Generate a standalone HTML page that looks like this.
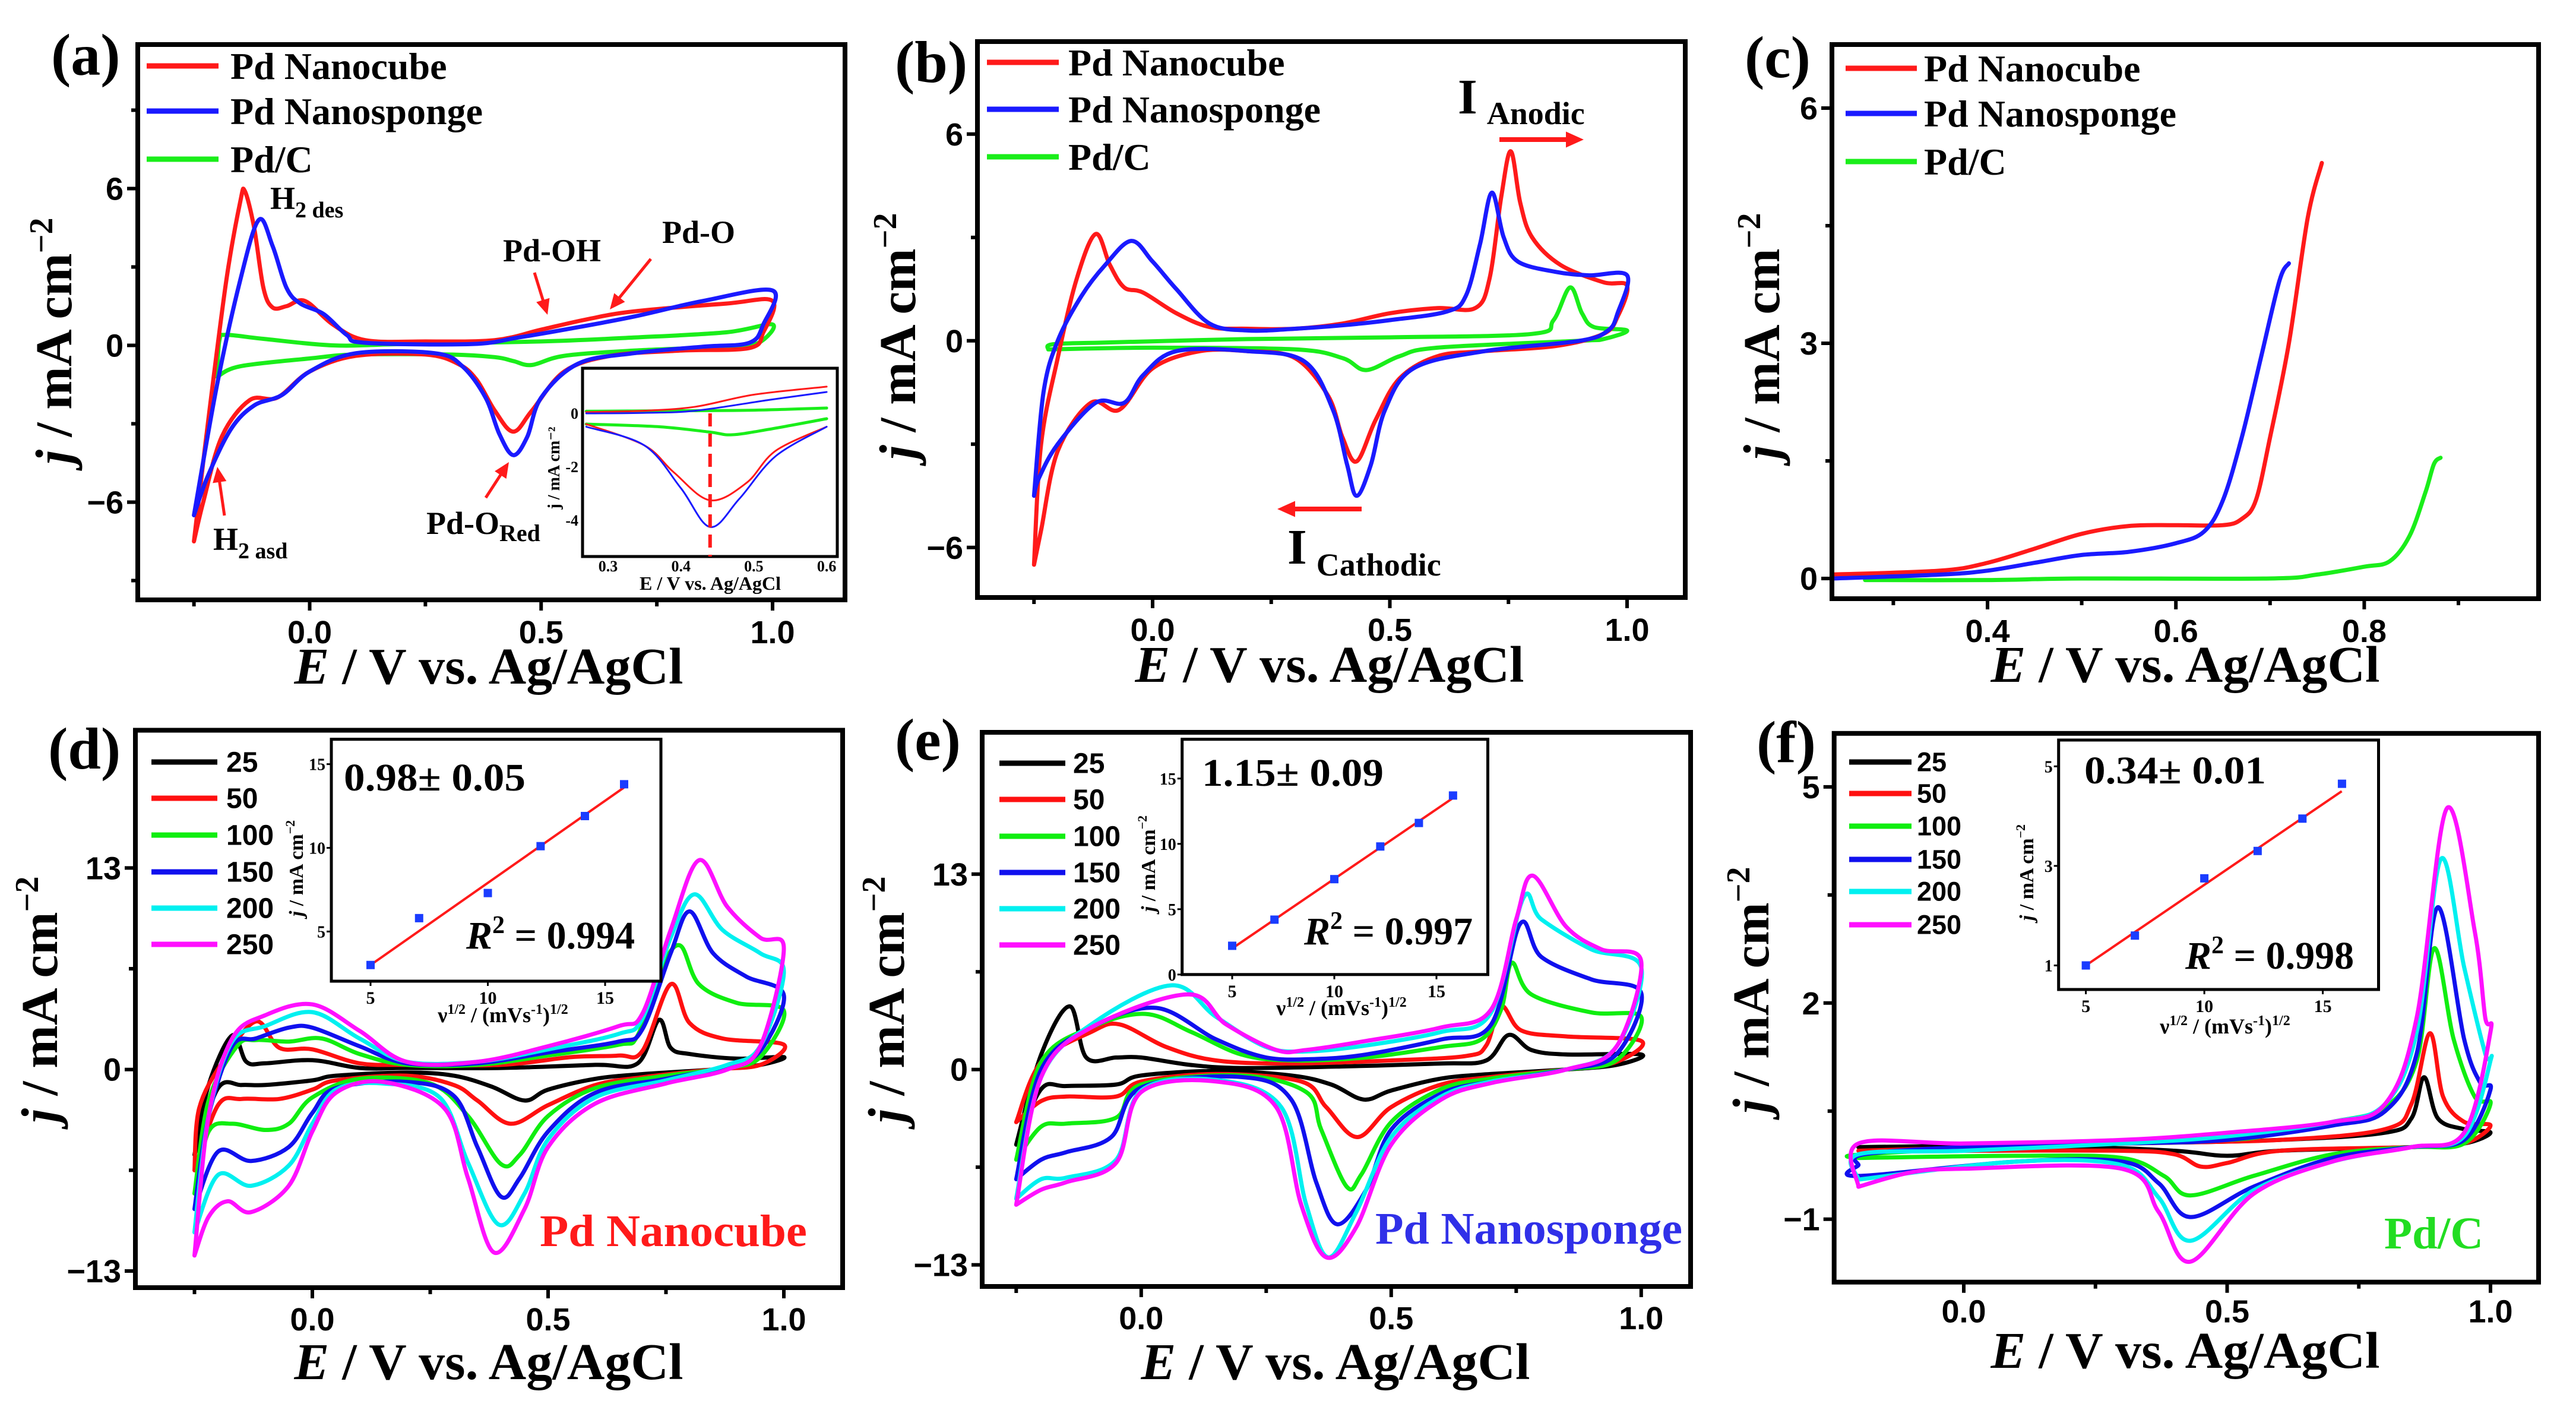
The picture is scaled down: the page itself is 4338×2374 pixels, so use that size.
<!DOCTYPE html>
<html>
<head>
<meta charset="utf-8">
<style>
html,body{margin:0;padding:0;background:#fff;}
svg{display:block;}
</style>
</head>
<body>
<svg id="fig" width="4338" height="2374" viewBox="0 0 4338 2374" xmlns="http://www.w3.org/2000/svg"></svg>
<script>
// ================= DATA =================
// Panel (a) CV: [E (V), j (mA cm-2)] forward then reverse sweep
const aCube = [[-0.25,-7.5],[-0.22,-3],[-0.18,2.5],[-0.15,5.5],[-0.14,5.9],[-0.12,4.5],[-0.1,2.2],[-0.08,1.45],[-0.05,1.5],[-0.01,1.7],[0.05,0.8],[0.12,0.2],[0.25,0.15],[0.4,0.2],[0.5,0.6],[0.6,1.0],[0.7,1.3],[0.9,1.6],[1.0,1.7],[0.98,0.5],[0.95,-0.1],[0.8,-0.2],[0.65,-0.4],[0.55,-1.0],[0.48,-2.5],[0.44,-3.3],[0.4,-2.5],[0.36,-1.3],[0.32,-0.7],[0.25,-0.35],[0.1,-0.4],[0.0,-1.0],[-0.07,-2.0],[-0.13,-2.1],[-0.19,-3.5],[-0.23,-6],[-0.25,-7.5]];
const aSponge = [[-0.25,-6.5],[-0.2,-1.5],[-0.15,2.5],[-0.11,4.8],[-0.08,3.8],[-0.05,2.2],[-0.02,1.6],[0.03,1.2],[0.08,0.4],[0.12,0.1],[0.35,0.05],[0.45,0.3],[0.55,0.6],[0.7,1.1],[0.85,1.7],[1.0,2.1],[0.98,0.8],[0.95,0.1],[0.85,-0.05],[0.7,-0.3],[0.58,-0.7],[0.5,-2],[0.47,-3.5],[0.44,-4.2],[0.41,-3.4],[0.38,-2.0],[0.33,-0.8],[0.27,-0.3],[0.1,-0.3],[0.0,-1.0],[-0.06,-1.9],[-0.12,-2.3],[-0.17,-3.2],[-0.22,-5],[-0.25,-6.5]];
const aPdc = [[-0.2,-1.2],[-0.195,0.2],[-0.18,0.4],[-0.1,0.25],[0.05,0.0],[0.2,0.05],[0.5,0.15],[0.7,0.3],[0.9,0.5],[1.0,0.8],[0.97,0.1],[0.9,-0.05],[0.7,-0.2],[0.55,-0.4],[0.48,-0.75],[0.44,-0.6],[0.4,-0.45],[0.3,-0.35],[0.1,-0.35],[0.0,-0.5],[-0.15,-0.8],[-0.2,-1.2]];
// inset (a)
const aiCubeFwd = [[0.27,0.05],[0.35,0.1],[0.42,0.25],[0.5,0.7],[0.6,1.0]];
const aiCubeRev = [[0.27,-0.4],[0.35,-1.2],[0.39,-2.2],[0.44,-3.25],[0.49,-2.6],[0.53,-1.4],[0.6,-0.5]];
const aiSpongeFwd = [[0.27,0.0],[0.35,0.02],[0.42,0.1],[0.52,0.5],[0.6,0.8]];
const aiSpongeRev = [[0.27,-0.5],[0.35,-1.2],[0.4,-2.8],[0.44,-4.25],[0.48,-3.2],[0.53,-1.6],[0.6,-0.5]];
const aiPdcFwd = [[0.27,0.08],[0.4,0.1],[0.5,0.12],[0.6,0.2]];
const aiPdcRev = [[0.27,-0.4],[0.37,-0.5],[0.44,-0.7],[0.47,-0.8],[0.52,-0.6],[0.6,-0.2]];
const aiMarkE = [0.44];

// Panel (b)
const bCube = [[-0.25,-6.5],[-0.235,-3],[-0.2,-0.5],[-0.16,1.8],[-0.12,3.1],[-0.09,2.2],[-0.06,1.55],[-0.02,1.4],[0.05,0.8],[0.12,0.4],[0.2,0.35],[0.3,0.35],[0.4,0.5],[0.5,0.8],[0.6,0.95],[0.68,0.95],[0.71,1.8],[0.735,4.2],[0.755,5.5],[0.775,4.0],[0.8,3.0],[0.86,2.2],[0.95,1.7],[1.0,1.6],[0.98,0.7],[0.95,0.2],[0.85,-0.15],[0.7,-0.3],[0.6,-0.45],[0.52,-1.1],[0.47,-2.3],[0.43,-3.5],[0.4,-2.8],[0.37,-1.6],[0.3,-0.5],[0.2,-0.3],[0.1,-0.3],[0.0,-0.8],[-0.07,-2.0],[-0.13,-1.8],[-0.2,-3.2],[-0.235,-5.5],[-0.25,-6.5]];
const bSponge = [[-0.25,-4.5],[-0.23,-1.5],[-0.2,0.0],[-0.15,1.3],[-0.1,2.2],[-0.045,2.9],[0.0,2.3],[0.05,1.5],[0.12,0.5],[0.2,0.3],[0.3,0.35],[0.4,0.45],[0.5,0.6],[0.62,0.85],[0.66,1.3],[0.69,2.8],[0.715,4.3],[0.74,3.0],[0.77,2.3],[0.85,2.0],[0.92,1.9],[1.0,1.9],[0.98,0.8],[0.96,0.3],[0.9,0.0],[0.7,-0.3],[0.55,-0.8],[0.49,-2],[0.46,-3.6],[0.43,-4.5],[0.41,-3.6],[0.38,-2.0],[0.32,-0.6],[0.2,-0.3],[0.05,-0.3],[-0.02,-1.0],[-0.06,-1.8],[-0.12,-1.8],[-0.2,-3.0],[-0.24,-4.0],[-0.25,-4.5]];
const bPdc = [[-0.22,-0.25],[-0.21,-0.1],[-0.1,-0.05],[0.2,0.05],[0.5,0.1],[0.8,0.2],[0.845,0.6],[0.88,1.55],[0.905,0.8],[0.93,0.4],[1.0,0.3],[0.95,0.05],[0.9,0.0],[0.6,-0.2],[0.52,-0.45],[0.45,-0.85],[0.4,-0.5],[0.3,-0.25],[0.0,-0.2],[-0.22,-0.25]];

// Panel (c) LSV
const cCube = [[0.235,0.05],[0.35,0.1],[0.4,0.2],[0.45,0.38],[0.5,0.57],[0.55,0.67],[0.6,0.68],[0.65,0.68],[0.67,0.76],[0.685,1.0],[0.7,1.8],[0.72,3.0],[0.74,4.6],[0.755,5.3]];
const cSponge = [[0.235,0.0],[0.35,0.05],[0.4,0.1],[0.45,0.2],[0.5,0.3],[0.55,0.34],[0.6,0.45],[0.63,0.6],[0.65,1.0],[0.67,1.8],[0.69,2.8],[0.71,3.8],[0.72,4.02]];
const cPdc = [[0.27,-0.02],[0.4,-0.02],[0.5,0.0],[0.7,0.0],[0.75,0.05],[0.8,0.15],[0.827,0.22],[0.848,0.54],[0.865,1.1],[0.874,1.46],[0.881,1.54]];

// Panel (d) Pd nanocube, scan rates
const d25 = [[-0.25,-5.5],[-0.22,-1],[-0.17,2.2],[-0.14,0.5],[-0.1,0.4],[0.0,0.6],[0.1,0.1],[0.2,0.1],[0.4,0.1],[0.6,0.3],[0.69,0.4],[0.735,3.2],[0.76,1.4],[0.8,1.0],[0.9,0.7],[1.0,0.8],[0.95,0.3],[0.85,0.0],[0.7,-0.3],[0.6,-0.6],[0.5,-1.3],[0.45,-2.0],[0.38,-1.1],[0.3,-0.4],[0.2,-0.2],[0.05,-0.4],[0.0,-0.7],[-0.1,-1.0],[-0.15,-1.0],[-0.2,-1.2],[-0.25,-5.5]];
const d50 = [[-0.25,-6.5],[-0.24,-2.5],[-0.19,0.5],[-0.12,3.1],[-0.07,1.4],[0.0,1.3],[0.1,0.4],[0.2,0.3],[0.4,0.3],[0.55,0.8],[0.65,0.9],[0.7,1.2],[0.76,5.5],[0.8,3.0],[0.87,2.0],[1.0,1.6],[0.95,0.3],[0.85,0.0],[0.7,-0.5],[0.6,-1.0],[0.5,-2.3],[0.42,-3.5],[0.35,-2.0],[0.3,-1.0],[0.2,-0.4],[0.05,-0.7],[0.0,-1.3],[-0.07,-1.9],[-0.15,-1.9],[-0.2,-2.3],[-0.25,-6.5]];
const d100 = [[-0.25,-8],[-0.22,-2],[-0.16,1.5],[-0.12,1.9],[-0.05,1.8],[0.02,2.0],[0.1,1.0],[0.2,0.3],[0.35,0.3],[0.5,0.9],[0.65,1.6],[0.69,2.2],[0.74,6.5],[0.78,8.0],[0.82,5.5],[0.9,4.3],[1.0,3.8],[0.95,0.8],[0.88,0.1],[0.75,-0.4],[0.6,-1.2],[0.5,-3.0],[0.44,-5.5],[0.4,-6.1],[0.33,-3.0],[0.25,-0.9],[0.1,-0.6],[0.0,-1.8],[-0.05,-3.5],[-0.1,-3.9],[-0.17,-3.5],[-0.22,-4],[-0.25,-8]];
const d150 = [[-0.25,-9],[-0.22,-3],[-0.17,1.5],[-0.12,2.0],[-0.05,2.7],[0.0,2.7],[0.1,1.5],[0.2,0.4],[0.35,0.4],[0.5,1.1],[0.65,1.8],[0.7,2.6],[0.76,7.5],[0.8,10.2],[0.85,7.5],[0.92,6.0],[1.0,4.8],[0.95,1.2],[0.88,0.2],[0.75,-0.6],[0.6,-1.5],[0.5,-4],[0.44,-7],[0.4,-8.2],[0.35,-5],[0.3,-1.7],[0.2,-0.8],[0.05,-1.2],[0.0,-2.8],[-0.05,-5.0],[-0.13,-5.9],[-0.2,-5.3],[-0.25,-9]];
const d200 = [[-0.25,-10.5],[-0.22,-3],[-0.17,1.8],[-0.1,2.8],[0.0,3.7],[0.1,2.0],[0.2,0.5],[0.35,0.5],[0.5,1.3],[0.65,2.3],[0.7,3.3],[0.76,8.5],[0.81,11.3],[0.87,9.0],[0.95,7.5],[1.0,6.3],[0.95,1.5],[0.88,0.3],[0.75,-0.7],[0.6,-1.8],[0.5,-4.5],[0.45,-8],[0.395,-10],[0.33,-6],[0.27,-1.8],[0.15,-0.9],[0.05,-1.3],[0.0,-3.5],[-0.05,-6.2],[-0.13,-7.5],[-0.2,-6.8],[-0.25,-10.5]];
const d250 = [[-0.25,-12],[-0.22,-3],[-0.17,2.0],[-0.1,3.5],[0.0,4.2],[0.1,2.5],[0.2,0.5],[0.35,0.5],[0.5,1.5],[0.65,2.8],[0.7,3.6],[0.76,9.0],[0.82,13.5],[0.88,10.5],[0.95,8.5],[1.0,7.8],[0.95,1.5],[0.88,0.0],[0.75,-0.9],[0.6,-2.2],[0.5,-5],[0.45,-9],[0.385,-11.8],[0.33,-7],[0.28,-2.5],[0.15,-0.8],[0.05,-1.5],[0.0,-4],[-0.05,-7.5],[-0.13,-9.2],[-0.18,-8.5],[-0.22,-9.5],[-0.25,-12]];

// Panel (e) Pd nanosponge
const e25 = [[-0.25,-5],[-0.2,1.0],[-0.143,4.2],[-0.11,0.8],[-0.05,0.8],[0.0,0.8],[0.1,0.3],[0.2,0.1],[0.4,0.2],[0.6,0.4],[0.69,0.6],[0.735,2.3],[0.78,1.3],[0.85,1.0],[1.0,1.0],[0.95,0.3],[0.85,0.0],[0.7,-0.3],[0.6,-0.6],[0.5,-1.4],[0.445,-2.0],[0.38,-1.0],[0.3,-0.4],[0.15,-0.1],[0.0,-0.4],[-0.05,-1.0],[-0.15,-1.1],[-0.2,-1.3],[-0.25,-5]];
const e50 = [[-0.25,-3.5],[-0.2,0.5],[-0.1,2.5],[-0.043,3.0],[0.05,1.5],[0.15,0.6],[0.3,0.4],[0.5,0.6],[0.65,0.9],[0.69,1.6],[0.72,4.2],[0.76,2.6],[0.85,2.2],[1.0,1.9],[0.95,0.5],[0.85,0.0],[0.7,-0.5],[0.6,-1.0],[0.5,-2.5],[0.432,-4.5],[0.37,-2.5],[0.32,-0.8],[0.15,-0.3],[0.0,-0.8],[-0.05,-1.8],[-0.15,-1.8],[-0.2,-2.1],[-0.25,-3.5]];
const e100 = [[-0.25,-6],[-0.2,0.5],[-0.1,2.8],[0.008,3.7],[0.1,2.5],[0.2,1.0],[0.3,0.6],[0.45,0.8],[0.6,1.5],[0.68,2.0],[0.72,4.0],[0.741,7.1],[0.78,5.0],[0.9,3.8],[1.0,3.5],[0.95,0.6],[0.85,0.0],[0.7,-0.6],[0.6,-1.3],[0.5,-3.5],[0.44,-7],[0.411,-7.8],[0.36,-4],[0.33,-1.5],[0.2,-0.4],[0.0,-1.0],[-0.05,-3.2],[-0.15,-3.6],[-0.2,-3.8],[-0.25,-6]];
const e150 = [[-0.25,-7.3],[-0.2,0.0],[-0.1,2.8],[0.03,4.1],[0.15,2.0],[0.25,0.8],[0.35,0.7],[0.45,1.0],[0.6,2.0],[0.7,3.0],[0.758,9.7],[0.8,7.5],[0.9,6.0],[1.0,5.1],[0.95,1.0],[0.85,0.0],[0.7,-0.8],[0.6,-1.6],[0.5,-4.0],[0.45,-8.0],[0.392,-10.3],[0.35,-7.5],[0.3,-2],[0.2,-0.5],[0.0,-1.2],[-0.06,-4.5],[-0.15,-5.5],[-0.2,-6.0],[-0.25,-7.3]];
const e200 = [[-0.25,-8.6],[-0.2,-0.5],[-0.1,3],[0.06,5.6],[0.15,3.5],[0.25,1.5],[0.33,1.2],[0.45,1.6],[0.6,2.5],[0.7,3.8],[0.764,11.4],[0.8,10],[0.9,8.0],[1.0,6.8],[0.95,1.5],[0.85,0.0],[0.7,-0.8],[0.6,-1.8],[0.5,-4.5],[0.43,-9.5],[0.374,-12.5],[0.33,-9],[0.28,-2.5],[0.15,-0.7],[0.0,-1.4],[-0.05,-6],[-0.15,-7.2],[-0.2,-7.3],[-0.25,-8.6]];
const e250 = [[-0.25,-9.0],[-0.2,-0.5],[-0.1,2.8],[0.093,5.0],[0.17,3.0],[0.27,1.3],[0.33,1.3],[0.45,1.9],[0.6,2.8],[0.7,4.0],[0.75,10],[0.783,12.9],[0.85,9.5],[0.92,8.0],[1.0,7.2],[0.95,1.5],[0.85,0.0],[0.7,-0.9],[0.6,-2.0],[0.5,-5],[0.43,-10.5],[0.37,-12.5],[0.32,-9],[0.27,-2.5],[0.15,-0.8],[0.0,-1.5],[-0.05,-6.2],[-0.15,-7.5],[-0.2,-8.0],[-0.25,-9.0]];

// Panel (f) Pd/C
const f25 = [[-0.2,0.0],[0.3,0.05],[0.6,0.1],[0.8,0.2],[0.85,0.4],[0.874,0.97],[0.9,0.4],[0.95,0.25],[1.0,0.2],[0.95,0.05],[0.85,0.0],[0.6,-0.05],[0.5,-0.12],[0.4,-0.05],[0.2,0.0],[-0.2,0.0]];
const f50 = [[-0.2,-0.05],[0.3,0.05],[0.6,0.1],[0.8,0.25],[0.85,0.6],[0.885,1.58],[0.91,0.7],[0.95,0.35],[1.0,0.3],[0.95,0.05],[0.85,0.0],[0.6,-0.05],[0.5,-0.22],[0.45,-0.27],[0.4,-0.1],[0.3,-0.05],[0.0,-0.05],[-0.2,-0.05]];
const f100 = [[-0.2,-0.15],[-0.19,-0.1],[0.2,0.05],[0.5,0.1],[0.6,0.2],[0.7,0.35],[0.8,0.55],[0.86,1.2],[0.893,2.76],[0.93,1.5],[0.97,0.7],[1.0,0.6],[0.95,0.05],[0.85,0.0],[0.7,-0.1],[0.55,-0.4],[0.43,-0.67],[0.38,-0.4],[0.3,-0.15],[0.1,-0.12],[-0.2,-0.15]];
const f150 = [[-0.2,-0.25],[-0.19,-0.1],[0.0,0.0],[0.3,0.05],[0.5,0.1],[0.7,0.3],[0.8,0.5],[0.86,1.3],[0.9,3.33],[0.95,1.5],[0.98,0.9],[1.0,0.8],[0.95,0.1],[0.85,0.0],[0.7,-0.15],[0.55,-0.55],[0.43,-0.97],[0.37,-0.5],[0.3,-0.2],[0.1,-0.2],[-0.2,-0.4],[-0.2,-0.25]];
const f200 = [[-0.2,-0.45],[-0.2,-0.1],[0.0,-0.05],[0.3,0.05],[0.5,0.15],[0.7,0.35],[0.8,0.6],[0.86,1.6],[0.906,4.0],[0.95,2.5],[0.99,1.3],[1.0,1.2],[0.95,0.15],[0.85,0.0],[0.7,-0.2],[0.55,-0.6],[0.43,-1.3],[0.37,-0.7],[0.3,-0.25],[0.1,-0.2],[-0.2,-0.45]];
const f250 = [[-0.2,-0.55],[-0.2,0.05],[0.0,0.05],[0.3,0.1],[0.5,0.2],[0.7,0.35],[0.8,0.6],[0.86,1.8],[0.917,4.7],[0.97,3.0],[0.99,1.8],[1.0,1.6],[0.95,0.2],[0.85,0.0],[0.7,-0.2],[0.55,-0.65],[0.43,-1.59],[0.37,-0.9],[0.3,-0.3],[0.0,-0.3],[-0.1,-0.35],[-0.2,-0.55]];

// Insets: peak current vs sqrt(scan rate)
const sqrtRate = [5,7.07,10,12.25,14.14,15.81];
const dPeak = [3.0,5.8,7.3,10.1,11.9,13.8];
const dFit = [[5,3.0],[15.8,13.6]];
const ePeak = [2.2,4.2,7.3,9.8,11.6,13.7];
const eFit = [[5,2.0],[15.8,13.5]];
const fPeak = [1.0,1.6,2.75,3.3,3.95,4.65];
const fFit = [[5,1.0],[15.8,4.5]];

// Tick labels
const cvXTicks = [0,0.5,1.0];
const cvXTickLabels = ['0.0','0.5','1.0'];
const aYTicks = [6,0,-6];
const aYTickLabels = ['6','0','\u22126'];
const cXTicks = [0.4,0.6,0.8];
const cXTickLabels = ['0.4','0.6','0.8'];
const cYTicks = [0,3,6];
const dYTicks = [13,0,-13];
const dYTickLabels = ['13','0','\u221213'];
const fYTicks = [5,2,-1];
const fYTickLabels = ['5','2','\u22121'];
const rateLabels = ['25','50','100','150','200','250'];
const rateColors = ['#000000','#ff1010','#10ee10','#1010ee','#00f0f0','#ff10ff'];

// ================= DRAWING =================
const NS = 'http://www.w3.org/2000/svg';
const svg = document.getElementById('fig');
function mk(tag, parent){ const el = document.createElementNS(NS, tag); parent.appendChild(el); return el; }
function set(el, o){ for (const k in o) el.setAttribute(k, o[k]); return el; }
const SERIF = '"Liberation Serif", "DejaVu Serif", serif';
const SANS = '"Liberation Sans", "DejaVu Sans", sans-serif';

function smooth(pts){
  let d = 'M' + pts[0][0].toFixed(1) + ',' + pts[0][1].toFixed(1);
  for (let i = 0; i < pts.length - 1; i++){
    const p0 = pts[Math.max(0,i-1)], p1 = pts[i], p2 = pts[i+1], p3 = pts[Math.min(pts.length-1,i+2)];
    const c1x = p1[0] + (p2[0]-p0[0])/6, c1y = p1[1] + (p2[1]-p0[1])/6;
    const c2x = p2[0] - (p3[0]-p1[0])/6, c2y = p2[1] - (p3[1]-p1[1])/6;
    d += 'C' + c1x.toFixed(1)+','+c1y.toFixed(1)+' '+c2x.toFixed(1)+','+c2y.toFixed(1)+' '+p2[0].toFixed(1)+','+p2[1].toFixed(1);
  }
  return d;
}
function makeAxes(cfg){
  return {
    x: v => cfg.ex[1] + (v - cfg.ex[0]) * cfg.ex[2],
    y: v => cfg.jy[1] - (v - cfg.jy[0]) * cfg.jy[2]
  };
}
function txt(parent, x, y, str, size, font, anchor, fill){
  const el = mk('text', parent);
  set(el, {x:x, y:y, 'font-size':size, 'font-family':font, 'font-weight':'bold', 'text-anchor':anchor||'start', fill:fill||'#000'});
  el.textContent = str;
  return el;
}
function curve(g, ax, pts, color, w, name){
  const p = mk('path', g);
  set(p, {d: smooth(pts.map(q => [ax.x(q[0]), ax.y(q[1])])), fill:'none', stroke:color, 'stroke-width':w, 'stroke-linejoin':'round', 'stroke-linecap':'round'});
  
  
  return p;
}

function panel(id, cfg){
  const g = mk('g', svg);
  
  
  const ax = makeAxes(cfg);
  const [x0,y0,x1,y1] = cfg.box;
  // ticks x
  const xt = mk('g', g);
  
  
  cfg.xt.forEach((v,i) => {
    const t = mk('line', xt);
    set(t, {x1:ax.x(v), x2:ax.x(v), y1:y1, y2:y1+18, stroke:'#000', 'stroke-width':6});
    
    
    const l = txt(xt, ax.x(v), y1 + cfg.xlOff, cfg.xtl[i], 54, SANS, 'middle');
    
    
  });
  cfg.xm.forEach(v => {
    const t = mk('line', xt);
    set(t, {x1:ax.x(v), x2:ax.x(v), y1:y1, y2:y1+11, stroke:'#000', 'stroke-width':6});
    
    
  });
  // ticks y
  const yt = mk('g', g);
  
  
  cfg.yt.forEach((v,i) => {
    const t = mk('line', yt);
    set(t, {x1:x0-18, x2:x0, y1:ax.y(v), y2:ax.y(v), stroke:'#000', 'stroke-width':6});
    
    
    const l = txt(yt, x0 - 24, ax.y(v) + 19, cfg.ytl[i], 54, SANS, 'end');
    
    
  });
  cfg.ym.forEach(v => {
    const t = mk('line', yt);
    set(t, {x1:x0-11, x2:x0, y1:ax.y(v), y2:ax.y(v), stroke:'#000', 'stroke-width':6});
    
    
  });
  // series
  cfg.series.forEach(s => curve(g, ax, s.pts, s.color, 7, s.name));
  // frame
  const r = mk('rect', g);
  set(r, {x:x0, y:y0, width:x1-x0, height:y1-y0, fill:'none', stroke:'#000', 'stroke-width':8});
  
  
  // x title
  const xtitle = txt(g, cfg.xTitle[0], cfg.xTitle[1], '', 87, SERIF, 'middle');
  set(xtitle, {textLength: 655, lengthAdjust: 'spacingAndGlyphs'});
  const ts1 = mk('tspan', xtitle); ts1.setAttribute('font-style','italic'); ts1.textContent = 'E';
  const ts2 = mk('tspan', xtitle); ts2.textContent = ' / V vs. Ag/AgCl';
  
  
  // y title
  const ytitle = txt(g, 0, 0, '', 87, SERIF, 'middle');
  set(ytitle, {transform: 'translate(' + cfg.yTitle[0] + ',' + cfg.yTitle[1] + ') rotate(-90)'});
  const u1 = mk('tspan', ytitle); u1.setAttribute('font-style','italic'); u1.textContent = 'j';
  const u2 = mk('tspan', ytitle); u2.textContent = ' / mA cm';
  const u3 = mk('tspan', ytitle); set(u3, {dy:-32, 'font-size':56}); u3.textContent = '\u22122';
  
  
  // panel label
  const pl = txt(g, cfg.label[0], cfg.label[1], '(' + id + ')', 100, SERIF);
  
  
  return {g, ax};
}

function legend(g, entries, lx0, lx1, tx, rows, size, font){
  const lg = mk('g', g);
  
  
  entries.forEach((e,i) => {
    const ln = mk('line', lg);
    set(ln, {x1:lx0, x2:lx1, y1:rows[i], y2:rows[i], stroke:e.color, 'stroke-width':9});
    
    
    const t = txt(lg, tx, rows[i] + size*0.34, e.label, size, font);
    
    
  });
}

function arrow(g, x1, y1, x2, y2, w, head, name){
  const ln = mk('line', g);
  const dx = x2-x1, dy = y2-y1, L = Math.hypot(dx,dy), ux = dx/L, uy = dy/L;
  set(ln, {x1:x1, y1:y1, x2:x2-ux*head*0.8, y2:y2-uy*head*0.8, stroke:'#ff1a1a', 'stroke-width':w});
  
  
  const hd = mk('polygon', g);
  const bx = x2-ux*head, by = y2-uy*head, px = -uy*head*0.45, py = ux*head*0.45;
  set(hd, {points: x2+','+y2+' '+(bx+px)+','+(by+py)+' '+(bx-px)+','+(by-py), fill:'#ff1a1a'});
  
  
}

const RED = '#ff1a1a', BLUE = '#1a1aff', GREEN = '#1aee1a';
const threeLeg = [{label:'Pd Nanocube', color:RED},{label:'Pd Nanosponge', color:BLUE},{label:'Pd/C', color:GREEN}];
const rateLeg = rateLabels.map((l,i) => ({label:l, color:rateColors[i]}));

// ---------- Panel a ----------
const A = panel('a', {box:[232,75,1423,1010], ex:[0,521.5,779.5], jy:[0,581.5,44], xt:cvXTicks, xtl:cvXTickLabels, xm:[-0.25,0.25,0.75], yt:aYTicks, ytl:aYTickLabels, ym:[9,3,-3,-9], xlOff:73,
  series:[{pts:aPdc,color:GREEN,name:'pdc-cv'},{pts:aCube,color:RED,name:'nanocube-cv'},{pts:aSponge,color:BLUE,name:'nanosponge-cv'}],
  xTitle:[823,1151], yTitle:[120,574], label:[86,126]});
legend(A.g, threeLeg, 247, 368, 388, [111,187,268], 64, SERIF);
[['H',455,352,'h2-des-label','2 des'],['H',359,926,'h2-asd-label','2 asd']].forEach(a => {
  const t = txt(A.g, a[1], a[2], 'H', 54, SERIF);
  const s = mk('tspan', t); set(s, {dy:14, 'font-size':38}); s.textContent = a[4];
  
  
});
const pdoh = txt(A.g, 847, 440, 'Pd-OH', 54, SERIF);


const pdo = txt(A.g, 1115, 409, 'Pd-O', 54, SERIF);


const pdored = txt(A.g, 718, 899, 'Pd-O', 54, SERIF);
const pdr = mk('tspan', pdored); set(pdr, {dy:12, 'font-size':40}); pdr.textContent = 'Red';


arrow(A.g, 900, 459, 922, 530, 5, 26, 'pd-oh-arrow');
arrow(A.g, 1096, 436, 1027, 521, 5, 26, 'pd-o-arrow');
arrow(A.g, 378, 868, 366, 786, 5, 26, 'h2-asd-arrow');
arrow(A.g, 818, 838, 857, 778, 5, 26, 'pd-o-red-arrow');

// inset a
(function(){
  const cfg = {box:[981,620,1410,937], ex:[0.3,1024,1227], jy:[0,696,45]};
  const ax = makeAxes(cfg);
  const g = mk('g', A.g);
  
  
  const bg = mk('rect', g);
  set(bg, {x:981, y:620, width:429, height:317, fill:'#fff', stroke:'#000', 'stroke-width':5});
  
  
  [[aiPdcFwd,GREEN],[aiPdcRev,GREEN],[aiCubeFwd,RED],[aiCubeRev,RED],[aiSpongeFwd,BLUE],[aiSpongeRev,BLUE]].forEach(s => curve(g, ax, s[0], s[1], s[1]===GREEN?5:3, 'inset-curve'));
  aiMarkE.forEach(v => {
    const m = mk('line', g);
    set(m, {x1:ax.x(v), x2:ax.x(v), y1:ax.y(0), y2:937, stroke:RED, 'stroke-width':6, 'stroke-dasharray':'22,12'});
    
    
  });
  [0.3,0.4,0.5,0.6].forEach(v => {
    const l = txt(g, ax.x(v), 962, v.toFixed(1), 26, SERIF, 'middle');
    
    
  });
  [[0,'0'],[-2,'-2'],[-4,'-4']].forEach(v => {
    const l = txt(g, 974, ax.y(v[0]) + 9, v[1], 26, SERIF, 'end');
    
    
  });
  const xl = txt(g, 1196, 993, 'E / V vs. Ag/AgCl', 32, SERIF, 'middle');
  
  
  const yl = txt(g, 0, 0, 'j / mA cm\u207B\u00B2', 28, SERIF, 'middle');
  set(yl, {transform:'translate(942,788) rotate(-90)'});
  
  
})();

// ---------- Panel b ----------
const B = panel('b', {box:[1646,70,2838,1006], ex:[0,1941,799], jy:[0,573.8,58], xt:cvXTicks, xtl:cvXTickLabels, xm:[-0.25,0.25,0.75], yt:aYTicks, ytl:aYTickLabels, ym:[3,-3], xlOff:73,
  series:[{pts:bPdc,color:GREEN,name:'pdc-cv'},{pts:bCube,color:RED,name:'nanocube-cv'},{pts:bSponge,color:BLUE,name:'nanosponge-cv'}],
  xTitle:[2239,1148], yTitle:[1541,566], label:[1507,138]});
legend(B.g, threeLeg, 1662, 1783, 1799, [105,184,264], 64, SERIF);
const ian = txt(B.g, 2455, 191, 'I', 84, SERIF);
const ians = mk('tspan', ian); set(ians, {dx:16, dy:18, 'font-size':54}); ians.textContent = 'Anodic';


arrow(B.g, 2525, 235, 2667, 235, 8, 30, 'anodic-arrow');
const ica = txt(B.g, 2168, 949, 'I', 84, SERIF);
const icas = mk('tspan', ica); set(icas, {dx:16, dy:20, 'font-size':54}); icas.textContent = 'Cathodic';


arrow(B.g, 2293, 857, 2151, 857, 8, 30, 'cathodic-arrow');

// ---------- Panel c ----------
const C = panel('c', {box:[3085,75,4275,1008], ex:[0.4,3347,1586], jy:[0,974,132], xt:cXTicks, xtl:cXTickLabels, xm:[0.3,0.5,0.7,0.9], yt:cYTicks, ytl:['0','3','6'], ym:[1.5,4.5], xlOff:73,
  series:[{pts:cPdc,color:GREEN,name:'pdc-lsv'},{pts:cCube,color:RED,name:'nanocube-lsv'},{pts:cSponge,color:BLUE,name:'nanosponge-lsv'}],
  xTitle:[3680,1148], yTitle:[2996,566], label:[2938,130]});
legend(C.g, threeLeg, 3108, 3228, 3240, [115,191,272], 64, SERIF);

// ---------- scan rate panels ----------
function ratePanel(id, cfg, data, legCfg, nameLabel, inset){
  const P = panel(id, Object.assign(cfg, {series: data.map((pts,i) => ({pts, color:rateColors[i], name:'cv-' + rateLabels[i]}))}));
  legend(P.g, rateLeg, legCfg[0], legCfg[1], legCfg[2], legCfg[3], legCfg[4], SANS);
  const nl = txt(P.g, nameLabel[0], nameLabel[1], nameLabel[2], 76, SERIF, 'start', nameLabel[3]);
  set(nl, {textLength:nameLabel[4], lengthAdjust:'spacingAndGlyphs'});
  
  
  // inset
  const ig = mk('g', P.g);
  
  
  const iax = makeAxes(inset);
  const [bx0,by0,bx1,by1] = inset.box;
  const fr = mk('rect', ig);
  set(fr, {x:bx0, y:by0, width:bx1-bx0, height:by1-by0, fill:'#fff', stroke:'#000', 'stroke-width':5});
  
  
  [5,10,15].forEach(v => {
    const tk = mk('line', ig);
    set(tk, {x1:iax.x(v), x2:iax.x(v), y1:by1, y2:by1+8, stroke:'#000', 'stroke-width':3});
    
    
    const l = txt(ig, iax.x(v), by1 + 38, String(v), 30, SERIF, 'middle');
    
    
  });
  inset.yt.forEach(v => {
    const tk = mk('line', ig);
    set(tk, {x1:bx0-8, x2:bx0, y1:iax.y(v), y2:iax.y(v), stroke:'#000', 'stroke-width':3});
    
    
    const l = txt(ig, bx0 - 10, iax.y(v) + 10, String(v), 28, SERIF, 'end');
    
    
  });
  const fit = mk('line', ig);
  set(fit, {x1:iax.x(inset.fit[0][0]), y1:iax.y(inset.fit[0][1]), x2:iax.x(inset.fit[1][0]), y2:iax.y(inset.fit[1][1]), stroke:'#ff1a1a', 'stroke-width':4});
  
  
  sqrtRate.forEach((v,i) => {
    const m = mk('rect', ig);
    set(m, {x:iax.x(v)-7, y:iax.y(inset.peak[i])-7, width:14, height:14, fill:'#1a3cff'});
    
    
  });
  const slope = txt(ig, inset.slope[0], inset.slope[1], inset.slope[2], 66, SERIF);
  set(slope, {textLength:306, lengthAdjust:'spacingAndGlyphs'});
  
  
  const r2 = txt(ig, inset.r2[0], inset.r2[1], '', 66, SERIF);
  const r2a = mk('tspan', r2); r2a.setAttribute('font-style','italic'); r2a.textContent = 'R';
  const r2b = mk('tspan', r2); set(r2b, {dy:-26, 'font-size':42}); r2b.textContent = '2';
  const r2c = mk('tspan', r2); set(r2c, {dy:26}); r2c.textContent = ' = ' + inset.r2[2];
  
  
  const xl = txt(ig, inset.xl[0], inset.xl[1], '', 36, SERIF, 'middle');
  const x1s = mk('tspan', xl); x1s.textContent = '\u03BD';
  const x2s = mk('tspan', xl); set(x2s, {dy:-14, 'font-size':24}); x2s.textContent = '1/2';
  const x3s = mk('tspan', xl); set(x3s, {dy:14}); x3s.textContent = ' / (mVs';
  const x4s = mk('tspan', xl); set(x4s, {dy:-14, 'font-size':24}); x4s.textContent = '-1';
  const x5s = mk('tspan', xl); set(x5s, {dy:14}); x5s.textContent = ')';
  const x6s = mk('tspan', xl); set(x6s, {dy:-14, 'font-size':24}); x6s.textContent = '1/2';
  
  
  const yl = txt(ig, 0, 0, '', 34, SERIF, 'middle');
  set(yl, {transform:'translate(' + inset.yl[0] + ',' + inset.yl[1] + ') rotate(-90)'});
  const y1s = mk('tspan', yl); y1s.setAttribute('font-style','italic'); y1s.textContent = 'j';
  const y2s = mk('tspan', yl); y2s.textContent = ' / mA cm';
  const y3s = mk('tspan', yl); set(y3s, {dy:-14, 'font-size':22}); y3s.textContent = '\u22122';
  
  
}

ratePanel('d', {box:[228,1229.5,1419,2168], ex:[0,526,794], jy:[0,1800.7,26.1], xt:cvXTicks, xtl:cvXTickLabels, xm:[-0.25,0.25,0.75], yt:dYTicks, ytl:dYTickLabels, ym:[6.5,-6.5], xlOff:72,
  xTitle:[823,2322], yTitle:[96,1683], label:[81,1294]},
  [d25,d50,d100,d150,d200,d250], [255,366,381,[1283,1344,1406,1468,1529,1590],48],
  [909,2098,'Pd Nanocube',RED,450],
  {box:[558,1244.7,1113,1652], ex:[5,624,39.5], jy:[5,1568.4,28.18], yt:[5,10,15], peak:dPeak, fit:dFit,
   slope:[579,1331,'0.98\u00B1 0.05'], r2:[785,1597,'0.994'], xl:[847,1721], yl:[510,1462]});

ratePanel('e', {box:[1654,1233,2847,2166], ex:[0,1921.8,842], jy:[0,1800.7,25.3], xt:cvXTicks, xtl:cvXTickLabels, xm:[-0.25,0.25,0.75], yt:dYTicks, ytl:dYTickLabels, ym:[6.5,-6.5], xlOff:72,
  xTitle:[2249,2322], yTitle:[1522,1683], label:[1507,1279]},
  [e25,e50,e100,e150,e200,e250], [1683,1794,1807,[1285,1346,1408,1469,1530,1591],48],
  [2316,2094,'Pd Nanosponge','#3030e8',517],
  {box:[1990.7,1244.7,2505.5,1640.8], ex:[5,2075,34.4], jy:[0,1640.8,22], yt:[0,5,10,15], peak:ePeak, fit:eFit,
   slope:[2024,1323,'1.15\u00B1 0.09'], r2:[2196,1590,'0.997'], xl:[2259,1709], yl:[1945,1454]});

ratePanel('f', {box:[3088.7,1234.8,4275,2158.7], ex:[0,3307,887], jy:[0,1931.4,121.3], xt:cvXTicks, xtl:cvXTickLabels, xm:[0.25,0.75], yt:fYTicks, ytl:fYTickLabels, ym:[3.5,0.5], xlOff:68,
  xTitle:[3680,2303], yTitle:[2978,1667], label:[2958,1283]},
  [f25,f50,f100,f150,f200,f250], [3114,3219,3228,[1283,1336,1391,1447,1501,1557],45],
  [4015,2102,'Pd/C','#22dd22',167],
  {box:[3466.7,1246,4005.5,1666], ex:[5,3512.6,39.9], jy:[1,1625.5,83.8], yt:[1,3,5], peak:fPeak, fit:fFit,
   slope:[3510,1319,'0.34\u00B1 0.01'], r2:[3680,1631,'0.998'], xl:[3747,1740], yl:[3424,1469]});
</script>
</body>
</html>
